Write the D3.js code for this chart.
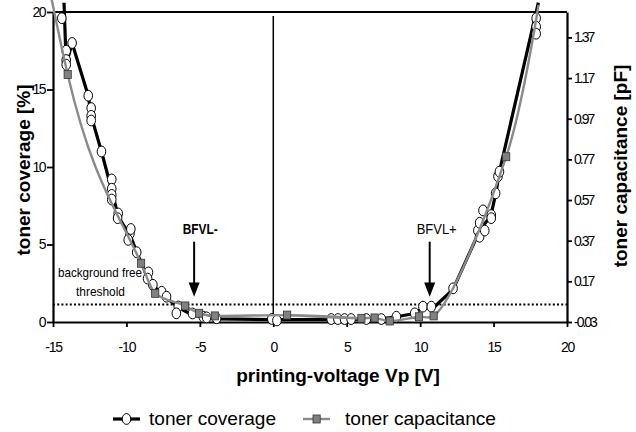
<!DOCTYPE html>
<html><head><meta charset="utf-8">
<script src="https://cdn.jsdelivr.net/npm/d3@7"></script>
<style>
html,body{margin:0;padding:0;background:#fff;}
svg{display:block;font-family:"Liberation Sans",Arial,sans-serif;}
</style></head>
<body>
<svg id="c" width="636" height="432"></svg>
<script>
// ---- data ----
const xTicks = [-15,-10,-5,0,5,10,15,20];
const yTicks = [0,5,10,15,20];
const y2Ticks = [-0.03,0.17,0.37,0.57,0.77,0.97,1.17,1.37];

// toner coverage: individual measurements (open circles)
const coverageV = [-14.4,-13.7,-14.1,-14.1,-14.1,-12.6,-12.4,-12.4,-12.4,-11.7,
  -11.0,-11.0,-11.0,-11.0,-10.56,-10.6,-9.76,-9.88,-9.7,-9.3,-8.5,-8.56,-8.2,-7.6,-7.27,
  -6.47,-6.6,-5.5,-4.77,-4.54,-3.86,-0.1,0.25,
  3.94,4.4,4.85,5.3,6.34,7.36,8.38,9.63,10.19,10.76,
  12.24,13.93,14.05,14.05,14.28,14.4,14.84,14.84,15.14,15.3,15.4,17.9,17.9,17.9];
const coverageY = [19.6,18.0,17.5,16.9,16.6,14.6,13.8,13.3,13.0,11.0,
  9.2,8.6,8.2,7.9,7.0,6.7,5.7,5.3,6.0,4.5,3.2,2.8,2.4,1.95,1.63,
  1.0,0.56,0.55,0.34,0.3,0.24,0.2,0.1,
  0.19,0.19,0.19,0.19,0.19,0.19,0.34,0.56,0.99,0.99,
  2.17,5.9,5.5,6.4,7.2,5.9,6.9,6.7,8.3,9.4,9.7,19.6,19.05,18.6];

// toner coverage: connecting line
const coverageLineV = [-14.25,-14.1,-13.7,-12.6,-12.4,-11.7,-11.0,-10.56,-9.7,-9.3,-8.56,-8.2,-7.7,-7.2,-6.4,-5.6,-4.5,-3.85,0,3.9,7.4,8.4,9.6,10.3,11.0,12.24,14.1,14.8,15.2,15.35,18.05];
const coverageLineY = [20.6,16.6,18.0,14.6,13.3,11.0,8.5,6.8,5.5,4.5,2.9,2.4,1.9,1.5,0.9,0.5,0.25,0.2,0.15,0.15,0.2,0.34,0.55,1.0,1.0,2.1,6.0,6.8,8.5,9.5,20.6];

// toner capacitance [pF] (grey squares, smoothed line)
const capV = [-15.1,-14.0,-9.0,-8.04,-6.0,-5.05,-3.98,0.94,6.0,6.9,7.93,9.92,10.92,15.86,18.06];
const capY = [1.56,1.188,0.259,0.111,0.049,0.013,0.0,0.004,-0.012,-0.010,-0.025,-0.004,0.0,0.783,1.53];

const threshold = 1.13;
const annV = [-5.39, 10.65];
const annLabel = ["BFVL-","BFVL+"];

// ---- chart ----
const svg = d3.select("#c");
const x = d3.scaleLinear([-15,20],[53,567]);
const y = d3.scaleLinear([0,20],[322,12]);
const y2 = d3.scaleLinear([-0.03,1.495],[322,12]);
const FONT = '"Liberation Sans",Arial,sans-serif';
const hyph = s => String(s).replace("\u2212","-");

// top border
svg.append("line").attr("x1",x(-15)).attr("x2",x(20)).attr("y1",y(20)).attr("y2",y(20))
  .attr("stroke","#000").attr("stroke-width",2);

// zero line
svg.append("line").attr("x1",x(0)).attr("x2",x(0)).attr("y1",y(19.75)).attr("y2",y(0))
  .attr("stroke","#000").attr("stroke-width",1.5);

// threshold dotted
svg.append("line").attr("x1",x(-15)).attr("x2",x(20)).attr("y1",y(threshold)).attr("y2",y(threshold))
  .attr("stroke","#000").attr("stroke-width",2.2).attr("stroke-dasharray","2,2.2");

// axes
function styleAxis(g, ls){
  g.select(".domain").attr("stroke","#000").attr("stroke-width",2.2);
  g.selectAll(".tick line").attr("stroke","#000").attr("stroke-width",1.8);
  g.selectAll(".tick text").attr("font-size",14).attr("font-family",FONT).attr("fill","#000")
    .attr("letter-spacing",ls);
}
const gx = svg.append("g").attr("transform",`translate(0,${y(0)})`)
  .call(d3.axisBottom(x).tickValues(xTicks).tickFormat(d=>hyph(d)).tickSize(5).tickSizeOuter(0).tickPadding(15));
styleAxis(gx,-1.2);
const gy = svg.append("g").attr("transform",`translate(${x(-15)},0)`)
  .call(d3.axisLeft(y).tickValues(yTicks).tickFormat(d=>hyph(d)).tickSize(6).tickSizeOuter(0).tickPadding(2));
styleAxis(gy,-1.5);
const gy2 = svg.append("g").attr("transform",`translate(${x(20)},0)`)
  .call(d3.axisRight(y2).tickValues(y2Ticks).tickFormat(d=>hyph(d.toFixed(2))).tickSize(5).tickSizeOuter(0).tickPadding(2));
styleAxis(gy2,-2);

// coverage line
const covLine = coverageLineV.map((v,i)=>[v,coverageLineY[i]]);
svg.append("path").datum(covLine)
  .attr("d", d3.line().x(d=>x(d[0])).y(d=>y(d[1])))
  .attr("fill","none").attr("stroke","#000").attr("stroke-width",3.2).attr("stroke-linejoin","round");

// coverage circles
const covPts = coverageV.map((v,i)=>[v,coverageY[i]]);
svg.append("g").selectAll("ellipse").data(covPts).join("ellipse")
  .attr("cx",d=>x(d[0])).attr("cy",d=>y(d[1])).attr("rx",4.3).attr("ry",5.4)
  .attr("fill","#fff").attr("stroke","#000").attr("stroke-width",1);

// capacitance line: smoothed (monotone on the falling branch, Catmull-Rom on the rising one)
const capPts = capV.map((v,i)=>[v,capY[i]]);
const capLeft = capPts.filter(d=>d[0]<=6.0);
const capRight = capPts.filter(d=>d[0]>=0.94);
svg.append("path").datum(capLeft)
  .attr("d", d3.line().x(d=>x(d[0])).y(d=>y2(d[1])).curve(d3.curveMonotoneX))
  .attr("fill","none").attr("stroke","#8a8a8a").attr("stroke-width",2.4);
svg.append("path").datum(capRight)
  .attr("d", d3.line().x(d=>x(d[0])).y(d=>y2(d[1])).curve(d3.curveCatmullRom.alpha(0.5)))
  .attr("fill","none").attr("stroke","#8a8a8a").attr("stroke-width",2.4);

// capacitance squares (only those inside the axis range)
svg.append("g").selectAll("rect").data(capPts.filter(d=>d[1]<=1.495)).join("rect")
  .attr("x",d=>x(d[0])-3.6).attr("y",d=>y2(d[1])-4).attr("width",7.2).attr("height",8)
  .attr("fill","#808080").attr("stroke","#333").attr("stroke-width",0.8);

// annotations
annV.forEach((v,i)=>{
  svg.append("line").attr("x1",x(v)).attr("x2",x(v)).attr("y1",y(5.18)).attr("y2",y(2.3))
    .attr("stroke","#000").attr("stroke-width",2);
  svg.append("path")
    .attr("d",`M${x(v)-5.5},${y(2.55)} L${x(v)+5.5},${y(2.55)} L${x(v)},${y(1.63)} Z`)
    .attr("fill","#000");
});
svg.append("text").attr("x",x(-5.39)+6).attr("y",y(5.7)).attr("text-anchor","middle")
  .attr("font-size",15).attr("font-weight","bold").attr("font-family",FONT)
  .attr("textLength",35).attr("lengthAdjust","spacingAndGlyphs").text(annLabel[0]);
svg.append("text").attr("x",x(10.65)+7).attr("y",y(5.7)).attr("text-anchor","middle")
  .attr("font-size",15).attr("font-family",FONT)
  .attr("textLength",40).attr("lengthAdjust","spacingAndGlyphs").text(annLabel[1]);

svg.append("text").attr("x",100).attr("y",277).attr("text-anchor","middle")
  .attr("font-size",13).attr("font-family",FONT)
  .attr("textLength",84).attr("lengthAdjust","spacingAndGlyphs").text("background free");
svg.append("text").attr("x",100.5).attr("y",296).attr("text-anchor","middle")
  .attr("font-size",13).attr("font-family",FONT)
  .attr("textLength",49).attr("lengthAdjust","spacingAndGlyphs").text("threshold");

// axis titles
svg.append("text").attr("x",338).attr("y",382).attr("text-anchor","middle")
  .attr("font-size",19).attr("font-weight","bold").attr("font-family",FONT)
  .text("printing-voltage Vp [V]");
svg.append("text").attr("transform","translate(30,170) rotate(-90)").attr("text-anchor","middle")
  .attr("font-size",19).attr("font-weight","bold").attr("font-family",FONT)
  .text("toner coverage [%]");
svg.append("text").attr("transform","translate(627,166) rotate(-90)").attr("text-anchor","middle")
  .attr("font-size",19).attr("font-weight","bold").attr("font-family",FONT)
  .text("toner capacitance [pF]");

// legend
const legY = 419;
const lg = svg.append("g");
lg.append("line").attr("x1",113).attr("x2",140).attr("y1",legY).attr("y2",legY)
  .attr("stroke","#000").attr("stroke-width",3.2);
lg.append("ellipse").attr("cx",126.5).attr("cy",legY).attr("rx",4.3).attr("ry",5.4)
  .attr("fill","#fff").attr("stroke","#000");
lg.append("text").attr("x",149).attr("y",legY+6).attr("font-size",18.5).attr("font-family",FONT)
  .attr("textLength",127).attr("lengthAdjust","spacingAndGlyphs").text("toner coverage");
lg.append("line").attr("x1",303).attr("x2",330).attr("y1",legY).attr("y2",legY)
  .attr("stroke","#8a8a8a").attr("stroke-width",2.4);
lg.append("rect").attr("x",313).attr("y",legY-4).attr("width",7.2).attr("height",8)
  .attr("fill","#808080").attr("stroke","#333").attr("stroke-width",0.8);
lg.append("text").attr("x",345).attr("y",legY+6).attr("font-size",18.5).attr("font-family",FONT)
  .attr("textLength",151).attr("lengthAdjust","spacingAndGlyphs").text("toner capacitance");
</script>
</body></html>
